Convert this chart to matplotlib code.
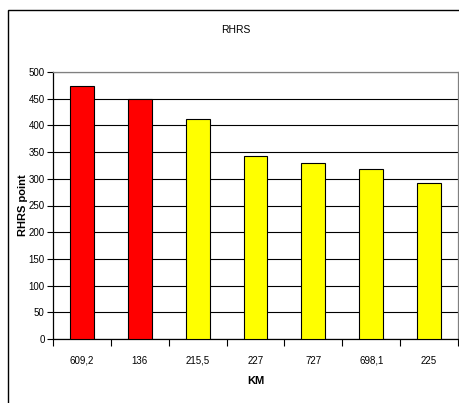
import matplotlib
matplotlib.use("Agg")
from matplotlib import pyplot as plt
from matplotlib.patches import Rectangle

# data
km_labels = ["609,2", "136", "215,5", "227", "727", "698,1", "225"]
rhrs_values = [474, 450, 412, 343, 329, 318, 292]
bar_colors = ["#FF0000", "#FF0000", "#FFFF00", "#FFFF00", "#FFFF00", "#FFFF00", "#FFFF00"]

plt.rcParams['font.family'] = ['Liberation Sans Narrow', 'Liberation Sans', 'DejaVu Sans']

W, H = 460, 403
fig = plt.figure(figsize=(W / 100, H / 100), dpi=100)

# outer chart border (cropped on right/bottom)
fig.patches.append(Rectangle((8 / W, -0.1), 1.2, 1 - 10 / H + 0.1, transform=fig.transFigure,
                             fill=False, edgecolor="black", linewidth=1.0))

ax = fig.add_axes([53 / W, 1 - 339 / H, (458 - 53) / W, (339 - 72) / H])

x = range(len(km_labels))
ax.bar(x, rhrs_values, width=0.41, color=bar_colors, edgecolor="black", linewidth=0.8, zorder=3)

ax.set_xlim(-0.5, len(km_labels) - 0.5)
ax.set_ylim(0, 500)
ax.set_yticks(range(0, 501, 50))
ax.yaxis.grid(True, color="black", linewidth=0.8, zorder=0)

# category boundary ticks on x
ax.set_xticks([i - 0.5 for i in range(len(km_labels) + 1)], minor=False)
ax.set_xticklabels([])
ax.set_xticks(list(x), minor=True)
ax.set_xticklabels(km_labels, minor=True)
ax.tick_params(axis="x", which="major", length=5, color="black", width=0.8)
ax.tick_params(axis="x", which="minor", length=0, pad=12, labelsize=7)
ax.tick_params(axis="y", length=4, width=0.8, labelsize=7, pad=2)

for side in ["top", "right"]:
    ax.spines[side].set_color("#808080")
for side in ["left", "bottom"]:
    ax.spines[side].set_color("black")
for s in ax.spines.values():
    s.set_linewidth(0.9)

ax.set_ylabel("RHRS point", fontsize=8, fontweight="bold")
ax.yaxis.set_label_coords((28 - 53) / 405, 0.5)
ax.set_xlabel("KM", fontsize=8, fontweight="bold")
ax.xaxis.set_label_coords(0.5, (339 - 376) / 267)
fig.text(236 / W, 1 - 30 / H, "RHRS", ha="center", va="center", fontsize=7.5)

fig.savefig("out.png", dpi=100)
